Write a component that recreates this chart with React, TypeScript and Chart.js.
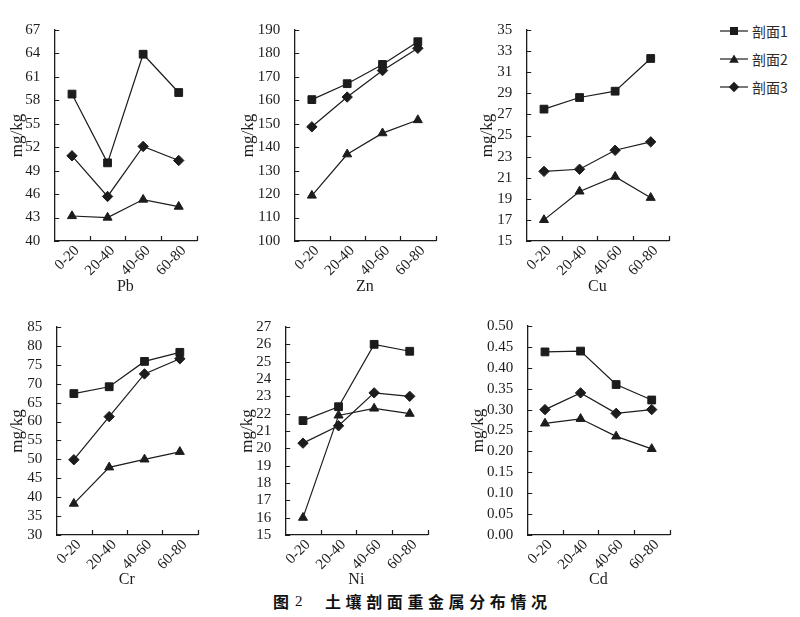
import React, { useEffect, useRef } from 'react';
import { Chart, registerables } from 'chart.js';

Chart.register(...registerables);

// ---------- data ----------
const DEPTHS = ['0-20', '20-40', '40-60', '60-80'];
const SERIES_NAMES = ['剖面1', '剖面2', '剖面3'];

const PB_1 = [58.8, 50.0, 63.9, 59.0];
const PB_2 = [43.2, 43.0, 45.3, 44.4];
const PB_3 = [50.9, 45.7, 52.1, 50.3];

const ZN_1 = [160.3, 167.1, 175.3, 185.0];
const ZN_2 = [119.4, 137.0, 146.0, 151.6];
const ZN_3 = [148.7, 161.4, 172.7, 182.2];

const CU_1 = [27.5, 28.6, 29.2, 32.3];
const CU_2 = [17.0, 19.7, 21.1, 19.1];
const CU_3 = [21.6, 21.8, 23.6, 24.4];

const CR_1 = [67.4, 69.2, 75.9, 78.3];
const CR_2 = [38.3, 47.9, 50.0, 52.0];
const CR_3 = [49.9, 61.3, 72.6, 76.6];

const NI_1 = [21.6, 22.4, 26.0, 25.6];
const NI_2 = [16.0, 21.9, 22.3, 22.0];
const NI_3 = [20.3, 21.3, 23.2, 23.0];

const CD_1 = [0.438, 0.44, 0.36, 0.323];
const CD_2 = [0.267, 0.278, 0.236, 0.206];
const CD_3 = [0.3, 0.34, 0.291, 0.3];

// y axis: [min, max, step, decimals]
const PB_AXIS = [40, 67, 3, 0];
const ZN_AXIS = [100, 190, 10, 0];
const CU_AXIS = [15, 35, 2, 0];
const CR_AXIS = [30, 85, 5, 0];
const NI_AXIS = [15, 27, 1, 0];
const CD_AXIS = [0, 0.5, 0.05, 2];

const Y_TITLE = 'mg/kg';
const CAPTION_FIG = '图';
const CAPTION_NUM = '2';
const CAPTION_TEXT = '土壤剖面重金属分布情况';

// ---------- styles / layout ----------
const INK = '#1c1c1c';
const SERIF = "'Liberation Serif', 'Times New Roman', 'DejaVu Serif', serif";
const CJK = "'Noto Sans CJK SC', 'Noto Sans', sans-serif";
const POINT_STYLES = ['rect', 'triangle', 'rectRot'];
const POINT_RADII = [5.5, 5.2, 5.2];
const TITLE_SIZE = 17;
const HALF_LH = (TITLE_SIZE * 1.2) / 2;

type Panel = {
  name: string;
  series: number[][];
  axis: number[];
  L: number; R: number; T: number; B: number; cx: number; xh: number;
};

const PANELS: Panel[] = [
  { name: 'Pb', series: [PB_1, PB_2, PB_3], axis: PB_AXIS, L: 54, R: 199, T: 25, B: 241, cx: 17, xh: 55 },
  { name: 'Zn', series: [ZN_1, ZN_2, ZN_3], axis: ZN_AXIS, L: 294, R: 438, T: 25, B: 241, cx: 248, xh: 55 },
  { name: 'Cu', series: [CU_1, CU_2, CU_3], axis: CU_AXIS, L: 526, R: 671, T: 25, B: 241, cx: 487, xh: 55 },
  { name: 'Cr', series: [CR_1, CR_2, CR_3], axis: CR_AXIS, L: 56, R: 200, T: 322, B: 535, cx: 17, xh: 54 },
  { name: 'Ni', series: [NI_1, NI_2, NI_3], axis: NI_AXIS, L: 285, R: 430, T: 322, B: 535, cx: 247, xh: 54 },
  { name: 'Cd', series: [CD_1, CD_2, CD_3], axis: CD_AXIS, L: 527, R: 672, T: 321, B: 535, cx: 478, xh: 54 },
];

const PAD_TOP = 10;
const PAD_RIGHT = 4;

const innerTicks = {
  id: 'innerTicks',
  afterDraw(chart: any) {
    const { ctx, chartArea } = chart;
    const xs = chart.scales.x;
    const ys = chart.scales.y;
    ctx.save();
    ctx.strokeStyle = INK;
    ctx.lineWidth = 1.2;
    ctx.beginPath();
    const n = xs.ticks.length;
    for (let i = 0; i < n; i++) {
      const c = xs.getPixelForValue(i);
      const half = (xs.right - xs.left) / n / 2;
      const px = Math.round(c + half) + 0.5;
      ctx.moveTo(px, chartArea.bottom);
      ctx.lineTo(px, chartArea.bottom - 5);
    }
    ys.ticks.forEach((_t: any, i: number) => {
      const py = Math.round(ys.getPixelForTick(i)) + 0.5;
      ctx.moveTo(chartArea.left, py);
      ctx.lineTo(chartArea.left + 5, py);
    });
    ctx.stroke();
    ctx.restore();
  },
};

function PanelChart({ p }: { p: Panel }) {
  const ref = useRef<HTMLCanvasElement>(null);
  const left = p.cx - HALF_LH;
  const top = p.T - PAD_TOP;
  const yw = p.L - left;
  const width = Math.round(p.R + PAD_RIGHT - left);
  const height = Math.round(p.B - top + p.xh);

  useEffect(() => {
    const [min, max, step, dec] = p.axis;
    const chart = new Chart(ref.current as HTMLCanvasElement, {
      type: 'line',
      data: {
        labels: DEPTHS,
        datasets: p.series.map((d, i) => ({
          label: SERIES_NAMES[i],
          data: d,
          borderColor: INK,
          backgroundColor: INK,
          borderWidth: 1.2,
          pointStyle: POINT_STYLES[i] as any,
          pointRadius: POINT_RADII[i],
          pointBackgroundColor: INK,
          pointBorderColor: INK,
          pointBorderWidth: 1,
          tension: 0,
          fill: false,
        })),
      },
      options: {
        animation: false,
        responsive: false,
        devicePixelRatio: 1,
        layout: { padding: { top: PAD_TOP, right: PAD_RIGHT, left: 0, bottom: 0 } },
        plugins: { legend: { display: false }, tooltip: { enabled: false } },
        scales: {
          x: {
            type: 'category',
            offset: true,
            grid: { display: false },
            border: { display: true, color: INK, width: 1.3 },
            ticks: {
              autoSkip: false,
              minRotation: 45,
              maxRotation: 45,
              padding: -7,
              labelOffset: 5,
              color: INK,
              font: { family: SERIF, size: 15 },
            },
            title: { display: true, text: p.name, color: INK, font: { family: SERIF, size: 16 }, padding: 0 },
            afterFit: (s: any) => { s.height = p.xh; },
          },
          y: {
            type: 'linear',
            min,
            max,
            grid: { display: false },
            border: { display: true, color: INK, width: 1.3 },
            ticks: {
              stepSize: step,
              autoSkip: false,
              maxTicksLimit: 100,
              padding: 6,
              color: INK,
              font: { family: SERIF, size: 15 },
              callback: (v: any) => Number(v).toFixed(dec),
            },
            title: { display: true, text: Y_TITLE, color: INK, font: { family: SERIF, size: TITLE_SIZE }, padding: 0 },
            afterFit: (s: any) => { s.width = yw; },
          },
        },
      },
      plugins: [innerTicks],
    });
    return () => chart.destroy();
  }, []);

  return (
    <canvas
      ref={ref}
      width={width}
      height={height}
      style={{ position: 'absolute', left, top, width, height }}
    />
  );
}

function LegendIcon({ kind }: { kind: number }) {
  return (
    <svg width={30} height={12} style={{ position: 'absolute', left: 0, top: 0 }}>
      <line x1={0} y1={6} x2={28} y2={6} stroke={INK} strokeWidth={1.2} />
      {kind === 0 && <rect x={10} y={2} width={8} height={8} fill={INK} />}
      {kind === 1 && <polygon points="14,1.5 18.8,9.8 9.2,9.8" fill={INK} />}
      {kind === 2 && <polygon points="14,0.8 19.2,6 14,11.2 8.8,6" fill={INK} />}
    </svg>
  );
}

const LEGEND_ROWS_Y = [31, 59, 87];

export default function App() {
  return (
    <div
      style={{
        position: 'fixed',
        left: 0,
        top: 0,
        width: 800,
        height: 617,
        background: '#ffffff',
        overflow: 'hidden',
      }}
    >
      {PANELS.map((p) => (
        <PanelChart key={p.name} p={p} />
      ))}
      {SERIES_NAMES.map((n, i) => (
        <div key={n} style={{ position: 'absolute', left: 720, top: LEGEND_ROWS_Y[i] - 6, width: 80, height: 12 }}>
          <LegendIcon kind={i} />
          <span
            style={{
              position: 'absolute',
              left: 32,
              top: -5,
              fontFamily: CJK,
              fontSize: 14,
              lineHeight: '22px',
              color: '#2a2a2a',
              whiteSpace: 'nowrap',
            }}
          >
            {n}
          </span>
        </div>
      ))}
      <div style={{ position: 'absolute', left: 273, top: 590, height: 22, lineHeight: '22px', whiteSpace: 'nowrap', color: '#111' }}>
        <span style={{ fontFamily: CJK, fontWeight: 700, fontSize: 16 }}>{CAPTION_FIG}</span>
      </div>
      <div style={{ position: 'absolute', left: 295, top: 590, height: 22, lineHeight: '22px', whiteSpace: 'nowrap', color: '#111' }}>
        <span style={{ fontFamily: SERIF, fontSize: 15 }}>{CAPTION_NUM}</span>
      </div>
      <div style={{ position: 'absolute', left: 325, top: 590, height: 22, lineHeight: '22px', whiteSpace: 'nowrap', color: '#111' }}>
        <span style={{ fontFamily: CJK, fontWeight: 700, fontSize: 16, letterSpacing: '4.6px' }}>{CAPTION_TEXT}</span>
      </div>
    </div>
  );
}
